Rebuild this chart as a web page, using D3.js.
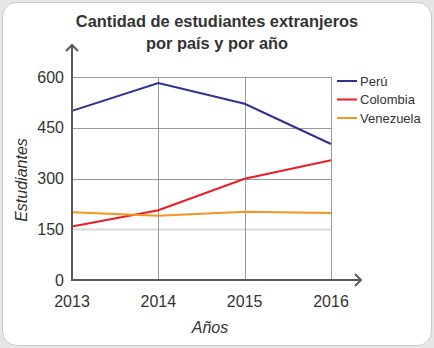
<!DOCTYPE html>
<html>
<head>
<meta charset="utf-8">
<script src="https://cdn.jsdelivr.net/npm/d3@7"></script>
<style>
  body { margin: 0; background: #e6e6e6; font-family: "Liberation Sans", Arial, sans-serif; }
  svg text { fill: #333; }
</style>
</head>
<body>
<div id="vis"></div>
<script>
var years = [2013, 2014, 2015, 2016];
var yTicks = [0, 150, 300, 450, 600];
var peru = [500, 582, 521, 402];
var colombia = [158, 206, 299, 354];
var venezuela = [200, 190, 202, 198];
var seriesNames = ["Perú", "Colombia", "Venezuela"];
var seriesColors = ["#2e3192", "#ed1c24", "#f7941d"];

var W = 434, H = 348;
var margin = {top: 77, right: 103, bottom: 68, left: 72};
var width = W - margin.left - margin.right,
    height = H - margin.top - margin.bottom;

var svg = d3.select("#vis")
    .append("svg")
    .attr("width", W)
    .attr("height", H);

// card
svg.append("rect")
    .attr("x", 2.5).attr("y", 2.5)
    .attr("width", W - 5).attr("height", H - 5)
    .attr("rx", 14)
    .attr("fill", "#fff")
    .attr("stroke", "#c8c8c8");

// title
svg.append("text")
    .attr("x", 217).attr("text-anchor", "middle")
    .attr("font-weight", "bold").attr("font-size", "16.4px")
    .selectAll("tspan")
    .data(["Cantidad de estudiantes extranjeros", "por país y por año"])
    .enter().append("tspan")
    .attr("x", 217)
    .attr("y", function(d, i) { return 27 + i * 22; })
    .text(function(d) { return d; });

var x = d3.scalePoint().domain(years).range([0, width]);
var y = d3.scaleLinear().domain([0, 600]).range([height, 0]);

var g = svg.append("g")
    .attr("transform", "translate(" + margin.left + "," + margin.top + ")");

// grid
g.selectAll(".hgrid")
    .data(yTicks.filter(function(d) { return d > 0; }))
    .enter().append("line")
    .attr("x1", 0).attr("x2", width)
    .attr("y1", function(d) { return Math.round(y(d)) + 0.5; })
    .attr("y2", function(d) { return Math.round(y(d)) + 0.5; })
    .attr("stroke", function(d) { return d == 150 ? "#d9d9d9" : "#9a9a9a"; })
    .attr("stroke-width", function(d) { return d == 150 ? 2 : 1; });

g.selectAll(".vgrid")
    .data(years.slice(1))
    .enter().append("line")
    .attr("x1", function(d) { return Math.round(x(d)) + 0.5; })
    .attr("x2", function(d) { return Math.round(x(d)) + 0.5; })
    .attr("y1", y(600)).attr("y2", height)
    .attr("stroke", "#9a9a9a");

// lines
var allSeries = [peru, colombia, venezuela];
var line = d3.line()
    .x(function(d, i) { return x(years[i]); })
    .y(function(d) { return y(d); });

g.selectAll(".series")
    .data(allSeries)
    .enter().append("path")
    .attr("d", line)
    .attr("fill", "none")
    .attr("stroke", function(d, i) { return seriesColors[i]; })
    .attr("stroke-width", 2);

// axes with arrows
var axisColor = "#595959";
g.append("line")
    .attr("x1", 0).attr("x2", 0)
    .attr("y1", height + 1).attr("y2", -32)
    .attr("stroke", axisColor).attr("stroke-width", 2);
g.append("path")
    .attr("d", "M-6,-26 L0,-32 L6,-26")
    .attr("fill", "none").attr("stroke", axisColor).attr("stroke-width", 2);
g.append("line")
    .attr("x1", -1).attr("x2", width + 30)
    .attr("y1", height).attr("y2", height)
    .attr("stroke", axisColor).attr("stroke-width", 2);
g.append("path")
    .attr("d", "M" + (width + 24) + "," + (height - 6) + " L" + (width + 30) + "," + height + " L" + (width + 24) + "," + (height + 6))
    .attr("fill", "none").attr("stroke", axisColor).attr("stroke-width", 2);

// tick labels
g.selectAll(".ylab")
    .data(yTicks)
    .enter().append("text")
    .attr("x", -8)
    .attr("y", function(d) { return y(d); })
    .attr("dy", "0.35em")
    .attr("text-anchor", "end")
    .attr("font-size", "16px")
    .text(function(d) { return d; });

g.selectAll(".xlab")
    .data(years)
    .enter().append("text")
    .attr("x", function(d) { return x(d); })
    .attr("y", height + 27)
    .attr("text-anchor", "middle")
    .attr("font-size", "16px")
    .text(function(d) { return d; });

// axis titles
svg.append("text")
    .attr("x", 210).attr("y", 333)
    .attr("text-anchor", "middle")
    .attr("font-size", "16px").attr("font-style", "italic")
    .text("Años");

svg.append("text")
    .attr("transform", "translate(27,180) rotate(-90)")
    .attr("text-anchor", "middle")
    .attr("font-size", "16px").attr("font-style", "italic")
    .text("Estudiantes");

// legend
var legend = svg.append("g")
    .attr("transform", "translate(337,81)");
var items = legend.selectAll(".item")
    .data(seriesNames)
    .enter().append("g")
    .attr("transform", function(d, i) { return "translate(0," + i * 18.5 + ")"; });
items.append("line")
    .attr("x1", 0).attr("x2", 20)
    .attr("stroke", function(d, i) { return seriesColors[i]; })
    .attr("stroke-width", 2);
items.append("text")
    .attr("x", 23).attr("dy", "0.35em")
    .attr("font-size", "13px")
    .text(function(d) { return d; });
</script>
</body>
</html>
